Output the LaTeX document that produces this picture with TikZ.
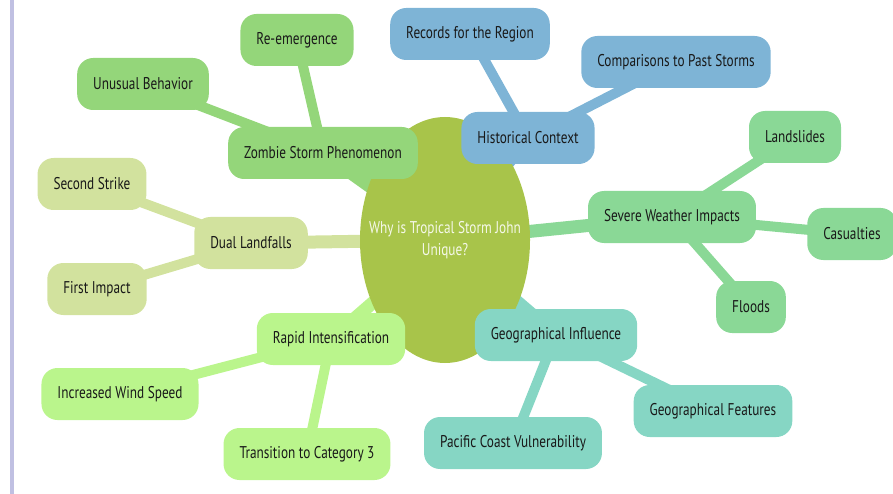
\documentclass[tikz,border=0pt]{standalone}
\usepackage{fontspec}
\setmainfont{PT Sans}[FakeStretch=0.78]
\usetikzlibrary{shapes.geometric,backgrounds}

\definecolor{rootgreen}{RGB}{168,196,74}
\definecolor{zombiegreen}{RGB}{148,214,122}
\definecolor{historyblue}{RGB}{126,180,214}
\definecolor{severegreen}{RGB}{138,216,150}
\definecolor{geoteal}{RGB}{134,214,196}
\definecolor{rapidgreen}{RGB}{186,245,140}
\definecolor{dualgreen}{RGB}{210,226,158}
\definecolor{sidebar}{RGB}{192,192,226}

\begin{document}
\begin{tikzpicture}[x=1pt,y=-1pt]

        % Styles
        \tikzstyle{topic}=[rounded corners=16pt,minimum height=52pt,inner xsep=16pt,font=\fontsize{17}{19}\selectfont,text=black!90]
        \tikzstyle{root}=[ellipse,fill=rootgreen,minimum width=170pt,minimum height=246pt,inner xsep=-22pt,inner ysep=0pt,align=center,text=white!88!rootgreen,font=\fontsize{17}{22}\selectfont]
        \tikzstyle{main link}=[line width=13pt]
        \tikzstyle{leaf link}=[line width=10pt]

        \useasboundingbox (0,0) rectangle (893,494);
        % left rule
        \draw[sidebar,line width=4pt] (12,0) -- (12,494);

        % centre
        \node[style=root] (john) at (445,240) {Why is Tropical Storm John\\Unique?};

        % branches
        \node[style=topic,fill=zombiegreen] (zombie) at (323,153) {Zombie Storm Phenomenon};
        \node[style=topic,fill=zombiegreen] (reemerge) at (297,40) {Re-emergence};
        \node[style=topic,fill=zombiegreen] (unusual) at (143,84) {Unusual Behavior};

        \node[style=topic,fill=dualgreen] (dual) at (251,243) {Dual Landfalls};
        \node[style=topic,fill=dualgreen] (second) at (92,184) {Second Strike};
        \node[style=topic,fill=dualgreen] (first) at (97,289) {First Impact};

        \node[style=topic,fill=rapidgreen] (rapid) at (331,339) {Rapid Intensification};
        \node[style=topic,fill=rapidgreen] (wind) at (120,394) {Increased Wind Speed};
        \node[style=topic,fill=rapidgreen] (cat) at (307,454) {Transition to Category 3};

        \node[style=topic,fill=historyblue] (history) at (528,138) {Historical Context};
        \node[style=topic,fill=historyblue] (records) at (470,34) {Records for the Region};
        \node[style=topic,fill=historyblue] (compare) at (676,62) {Comparisons to Past Storms};

        \node[style=topic,fill=severegreen] (severe) at (672,217) {Severe Weather Impacts};
        \node[style=topic,fill=severegreen] (landslides) at (795,137) {Landslides};
        \node[style=topic,fill=severegreen] (casualties) at (852,234) {Casualties};
        \node[style=topic,fill=severegreen] (floods) at (751,307) {Floods};

        \node[style=topic,fill=geoteal] (geo) at (556,335) {Geographical Influence};
        \node[style=topic,fill=geoteal] (features) at (713,411) {Geographical Features};
        \node[style=topic,fill=geoteal] (pacific) at (513,443) {Pacific Coast Vulnerability};

        % connectors, behind the nodes
        \begin{scope}[on background layer]
            \foreach \b/\c in {zombie/zombiegreen,dual/dualgreen,rapid/rapidgreen,history/historyblue,severe/severegreen,geo/geoteal}
                \draw[style=main link,\c] (john.center) -- (\b.center);
            \foreach \a/\b/\c in {zombie/reemerge/zombiegreen,zombie/unusual/zombiegreen,
                                  dual/second/dualgreen,dual/first/dualgreen,
                                  rapid/wind/rapidgreen,rapid/cat/rapidgreen,
                                  history/records/historyblue,history/compare/historyblue,
                                  severe/landslides/severegreen,severe/casualties/severegreen,severe/floods/severegreen,
                                  geo/features/geoteal,geo/pacific/geoteal}
                \draw[style=leaf link,\c] (\a.center) -- (\b.center);
        \end{scope}
\end{tikzpicture}
\end{document}
